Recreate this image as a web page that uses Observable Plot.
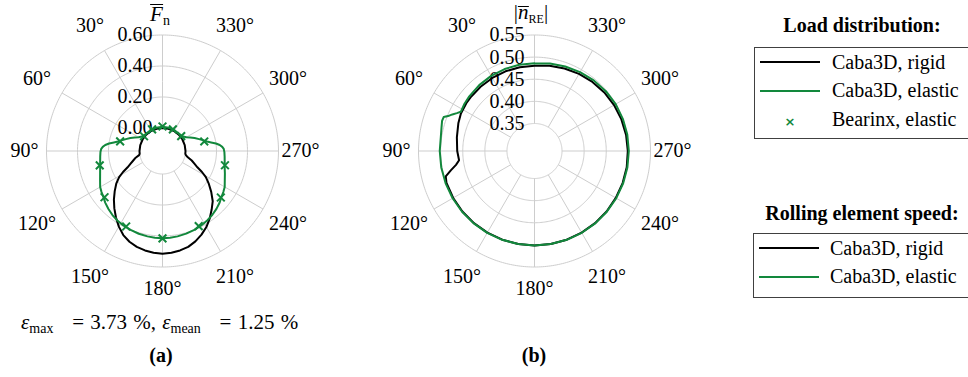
<!DOCTYPE html>
<html>
<head>
<meta charset="utf-8">
<script src="https://cdn.jsdelivr.net/npm/d3@7"></script>
<script src="https://cdn.jsdelivr.net/npm/@observablehq/plot@0.6"></script>
<style>
html,body{margin:0;padding:0;background:#fff;}
#page{position:relative;width:968px;height:377px;overflow:hidden;font-family:"Liberation Serif","Times New Roman",serif;color:#000;}
.abs{position:absolute;white-space:nowrap;}
.panel{position:absolute;top:0;}
.t20{font-size:20px;line-height:22px;}
.ttl{font-size:21px;line-height:18px;}
.ctr{transform:translateX(-50%);}
.bold{font-weight:bold;}
.box{position:absolute;border:1px solid #404040;background:#fff;}
.swatch{position:absolute;height:0;border-top:2px solid #000;width:60px;}
.bar{display:inline-block;border-top:1.3px solid #000;font-style:italic;}
sub{font-size:14px;vertical-align:-4px;line-height:0;}
</style>
</head>
<body>
<div id="page"></div>
<script>
// ---------- data ----------
const spokeAngles = [0, 30, 60, 90, 120, 150, 180, 210, 240, 270, 300, 330];
const angleLabelAngles = [30, 60, 90, 120, 150, 180, 210, 240, 270, 300, 330];
const angleLabelText = ["30°", "60°", "90°", "120°", "150°", "180°", "210°", "240°", "270°", "300°", "330°"];

// (a) load distribution
const loadTicks = [0, 0.2, 0.4, 0.6];
const loadTickText = ["0.00", "0.20", "0.40", "0.60"];

const rigidLoadAngle = [0, 15, 30, 45, 60, 75, 90, 97, 100, 104, 108, 112, 115, 118, 121, 125, 130, 135, 140, 145, 150, 155, 160, 165, 170, 175, 180, 185, 190, 195, 200, 205, 210, 215, 220, 225, 230, 235, 239, 242, 245, 248, 252, 256, 260, 263, 270, 285, 300, 315, 330, 345, 360];
const rigidLoadValue = [0, 0, 0, 0, 0, 0, 0, 0, 0.005, 0.03, 0.05, 0.075, 0.10, 0.14, 0.178, 0.215, 0.254, 0.295, 0.335, 0.375, 0.415, 0.45, 0.475, 0.492, 0.503, 0.511, 0.515, 0.511, 0.503, 0.492, 0.472, 0.447, 0.418, 0.383, 0.345, 0.31, 0.262, 0.215, 0.178, 0.14, 0.10, 0.075, 0.05, 0.02, 0.005, 0, 0, 0, 0, 0, 0, 0, 0];

const elasticLoadAngle = [0, 15, 30, 45, 50, 55, 60, 64, 68, 72, 75.5, 78, 80, 82, 84, 86, 88, 91, 95, 100, 105, 110, 115, 120, 124, 128, 132, 137, 142, 147, 152, 158, 164, 170, 175, 180, 185, 190, 196, 202, 208, 213, 218, 223, 228, 232, 236, 240, 245, 250, 255, 260, 265, 269, 272, 274, 276, 278, 280, 282, 284.5, 288, 292, 296, 300, 305, 310, 315, 330, 345, 360];
const elasticLoadValue = [0.008, 0.007, 0.006, 0.006, 0.009, 0.014, 0.03, 0.05, 0.075, 0.1, 0.125, 0.145, 0.17, 0.2, 0.223, 0.238, 0.247, 0.252, 0.255, 0.26, 0.268, 0.28, 0.296, 0.316, 0.326, 0.335, 0.349, 0.363, 0.376, 0.386, 0.394, 0.401, 0.407, 0.411, 0.413, 0.414, 0.413, 0.411, 0.406, 0.4, 0.392, 0.384, 0.374, 0.362, 0.348, 0.334, 0.325, 0.315, 0.295, 0.28, 0.267, 0.259, 0.254, 0.251, 0.247, 0.238, 0.223, 0.2, 0.17, 0.145, 0.125, 0.1, 0.075, 0.05, 0.03, 0.014, 0.009, 0.006, 0.006, 0.007, 0.008];

const bearinxAngle = [0, 25.71, 51.43, 77.14, 102.86, 128.57, 154.29, 180, 205.71, 231.43, 257.14, 282.86, 308.57, 334.29];
const bearinxValue = [0.01, 0.006, 0.004, 0.132, 0.267, 0.33, 0.392, 0.415, 0.39, 0.333, 0.265, 0.128, 0.006, 0.006];

// (b) rolling element speed
const speedTicks = [0.35, 0.40, 0.45, 0.50, 0.55];
const speedTickText = ["0.35", "0.40", "0.45", "0.50", "0.55"];

const rigidSpeedAngle = [0, 10, 20, 30, 40, 50, 55, 63, 70, 80, 90, 97, 100, 103, 106, 110, 120, 130, 140, 150, 160, 170, 180, 190, 200, 210, 220, 230, 240, 250, 260, 270, 280, 290, 300, 310, 320, 330, 340, 350, 360];
const rigidSpeedValue = [0.4805, 0.48, 0.4795, 0.4785, 0.4775, 0.4765, 0.476, 0.4745, 0.471, 0.466, 0.4625, 0.4596, 0.468, 0.482, 0.4965, 0.4995, 0.5, 0.5005, 0.5008, 0.501, 0.5011, 0.5012, 0.5012, 0.5012, 0.5011, 0.501, 0.5008, 0.5005, 0.5, 0.4998, 0.4995, 0.4987, 0.498, 0.4968, 0.4955, 0.4938, 0.4915, 0.489, 0.4862, 0.4835, 0.4805];

const elasticSpeedAngle = [0, 10, 20, 30, 40, 50, 56, 62, 64, 66, 68, 69.5, 72, 76, 82, 90, 100, 110, 120, 130, 140, 150, 160, 170, 180, 190, 200, 210, 220, 230, 240, 250, 260, 270, 280, 290, 300, 310, 320, 330, 340, 350, 360];
const elasticSpeedValue = [0.4862, 0.4857, 0.485, 0.4838, 0.4822, 0.4802, 0.4787, 0.4765, 0.483, 0.491, 0.4985, 0.507, 0.5075, 0.5045, 0.5018, 0.502, 0.5018, 0.5016, 0.5015, 0.5015, 0.5014, 0.5014, 0.5014, 0.5014, 0.5014, 0.5014, 0.5014, 0.5013, 0.5013, 0.5012, 0.5012, 0.5011, 0.501, 0.501, 0.5008, 0.5003, 0.4997, 0.4983, 0.4962, 0.4937, 0.4912, 0.4887, 0.4862];

// ---------- geometry / style ----------
const FONT = "Liberation Serif, Times New Roman, serif";
const GREEN = "#12883c";
const GRID = "#cdcdcd";
const R = 116;          // px radius of outer ring
const D = 60;           // angular radius (deg) of outer ring in the projection
const lat = rpx => 90 - rpx / R * D;
const lon = a => a + 180;          // 0° at top, counter-clockwise
const rLoad = v => 23 + v * 155;
const rSpeed = v => 27.5 + (v - 0.35) * 442.5;
const rows = (A, V) => A.map((a, i) => ({a, v: V[i]}));

function polar({ticks, tickText, rOf, lines, dots}) {
  const inner = rOf(ticks[0]);
  const lineMarks = lines.map(([data, color]) =>
    Plot.line(data, {x: d => lon(d.a), y: d => lat(rOf(d.v)), stroke: color, strokeWidth: 2, strokeLinejoin: "round"}));
  const dotMarks = dots ? [Plot.dot(dots, {x: d => lon(d.a), y: d => lat(rOf(d.v)), symbol: "times", r: 3.6, stroke: GREEN, strokeWidth: 2})] : [];
  return Plot.plot({
    width: 324, height: 300,
    marginLeft: 46, marginRight: 46, marginTop: 34.5, marginBottom: 33.5,
    projection: {
      type: "azimuthal-equidistant",
      rotate: [0, -90],
      domain: d3.geoCircle().center([0, 90]).radius(D).precision(1)(),
      clip: false
    },
    style: {fontFamily: FONT, background: "transparent", overflow: "visible"},
    marks: [
      Plot.geo(ticks, {geometry: v => d3.geoCircle().center([0, 90]).radius(rOf(v) / R * D).precision(1)(), stroke: GRID, strokeWidth: 1, fill: "none"}),
      Plot.link(spokeAngles, {x1: lon, y1: () => lat(inner), x2: lon, y2: () => lat(R), stroke: GRID, strokeWidth: 1}),
      Plot.text(angleLabelAngles, {x: lon, y: a => lat(138 + 8 * Math.abs(Math.sin(2 * a * Math.PI / 180))), text: (a, i) => angleLabelText[i], fontSize: 20, fill: "#000"}),
      Plot.text(ticks, {x: () => 180, y: v => lat(rOf(v)), text: (v, i) => tickText[i], textAnchor: "start", dx: -45, fontSize: 20, fill: "#000"}),
      ...lineMarks,
      ...dotMarks
    ]
  });
}

const page = document.getElementById("page");

const plotA = polar({
  ticks: loadTicks, tickText: loadTickText, rOf: rLoad,
  lines: [[rows(rigidLoadAngle, rigidLoadValue), "#000"], [rows(elasticLoadAngle, elasticLoadValue), GREEN]],
  dots: rows(bearinxAngle, bearinxValue)
});
plotA.classList.add("panel"); plotA.style.left = "0px";
page.appendChild(plotA);

const plotB = polar({
  ticks: speedTicks, tickText: speedTickText, rOf: rSpeed,
  lines: [[rows(rigidSpeedAngle, rigidSpeedValue), "#000"], [rows(elasticSpeedAngle, elasticSpeedValue), GREEN]]
});
plotB.classList.add("panel"); plotB.style.left = "372px";
page.appendChild(plotB);

function add(html, cls, left, top) {
  const el = document.createElement("div");
  el.className = "abs " + cls;
  el.style.left = left + "px"; el.style.top = top + "px";
  el.innerHTML = html;
  page.appendChild(el);
  return el;
}

// axis titles
add('<span class="bar" style="line-height:18px">F</span><sub style="font-style:normal">n</sub>', "ttl ctr", 160, 4);
add('|<span class="bar" style="line-height:11px">n</span><sub style="font-size:12px">RE</sub>|', "ttl ctr", 531, 3);

// annotations
add('<i>ε</i><sub>max</sub>&nbsp;&nbsp; = 3.73 %, <i>ε</i><sub>mean</sub>&nbsp;&nbsp; = 1.25 %', "t20", 21, 311).style.cssText += "font-size:21px;word-spacing:1px;";
add('(a)', "t20 bold ctr", 161, 344);
add('(b)', "t20 bold ctr", 534, 344);

// legends
add('Load distribution:', "t20 bold ctr", 862, 14);
const b1 = add('', "box", 754, 47); b1.style.width = "240px"; b1.style.height = "90px";
add('', "swatch", 760, 61).style.borderTopColor = "#000";
add('', "swatch", 760, 90).style.borderTopColor = GREEN;
add('<span style="color:' + GREEN + ';font-family:DejaVu Sans;font-weight:bold;font-size:13px">×</span>', "ctr", 790, 112);
add('Caba3D, rigid', "t20", 832, 51);
add('Caba3D, elastic', "t20", 832, 79);
add('Bearinx, elastic', "t20", 832, 108);

add('Rolling element speed:', "t20 bold ctr", 862, 202);
const b2 = add('', "box", 753, 233); b2.style.width = "240px"; b2.style.height = "63px";
add('', "swatch", 759, 247).style.borderTopColor = "#000";
add('', "swatch", 759, 276).style.borderTopColor = GREEN;
add('Caba3D, rigid', "t20", 830, 237);
add('Caba3D, elastic', "t20", 830, 265);
</script>
</body>
</html>
